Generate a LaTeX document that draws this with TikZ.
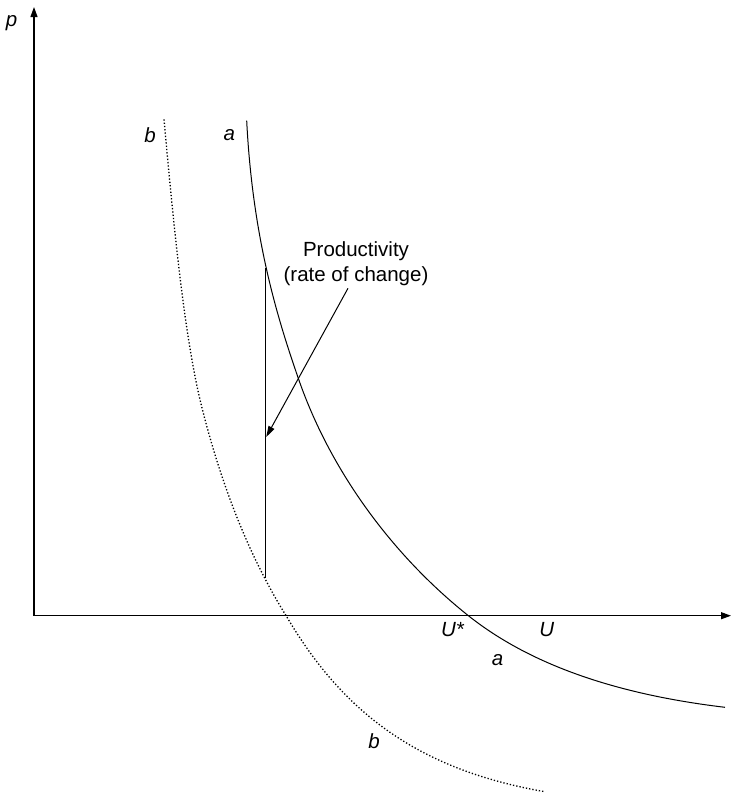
\documentclass[tikz,border=0pt]{standalone}
\usepackage{fontspec}
\setmainfont{Liberation Sans}
\usetikzlibrary{arrows.meta}
\tikzset{
  axis/.style={line width=1.1pt,-{Triangle[length=10pt,width=7pt]}},
  curve/.style={line width=1pt},
  shifted/.style={line width=1.3pt,dash pattern=on 1.3pt off 2pt},
  lbl/.style={font=\fontsize{20.5}{25}\selectfont\itshape,inner sep=0pt},
  note/.style={font=\fontsize{20.5}{25}\selectfont,align=center,inner sep=0pt},
  pointer/.style={line width=1pt,-{Triangle[length=11pt,width=6.5pt]}}
}

\begin{document}
\begin{tikzpicture}[x=1pt,y=-1pt]
  \useasboundingbox (0,0) rectangle (733,795);
  % Axes
  \coordinate (O) at (34,615.7);
  \coordinate (ytop) at (34,7);
  \coordinate (xend) at (731,615.7);
  \draw[axis] (O) -- (ytop);
  \draw[axis] (O) -- (xend);
  \node[lbl] (plab) at (11.7,23) {p};
  \node[lbl] (ustar) at (452.5,630) {U*};
  \node[lbl] (ulab) at (546.7,630) {U};
  % Curve a
  \draw[curve] (246.7,120.7) .. controls (252.7,240.5) and (278.7,321.6) .. (298.3,378.3)
    .. controls (329.9,470) and (391.7,554.4) .. (467.5,615)
    .. controls (538.6,671.9) and (634.6,696.5) .. (725,707.3);
  \node[lbl] (atop) at (229.3,135) {a};
  \node[lbl] (abot) at (497.5,660) {a};
  % Curve b (shifted)
  \draw[shifted] (164,119.3) .. controls (173.9,228.9) and (184.7,338.8) .. (201.7,406.7)
    .. controls (219.9,479.5) and (246.9,553.1) .. (286.7,616.7)
    .. controls (342.5,711.5) and (417,769.6) .. (545,791.7);
  \node[lbl] (btop) at (150,135.5) {b};
  \node[lbl] (bbot) at (374,741.3) {b};
  % Productivity gap
  \coordinate (vtop) at (265.7,268);
  \coordinate (vbot) at (265.7,577.5);
  \coordinate (tip) at (266.2,437);
  \draw[curve] (vtop) -- (vbot);
  \node[note] (prod) at (356,264) {Productivity\\(rate of change)};
  \draw[pointer] ([xshift=-8pt,yshift=-2pt]prod.south) -- (tip);
\end{tikzpicture}
\end{document}
